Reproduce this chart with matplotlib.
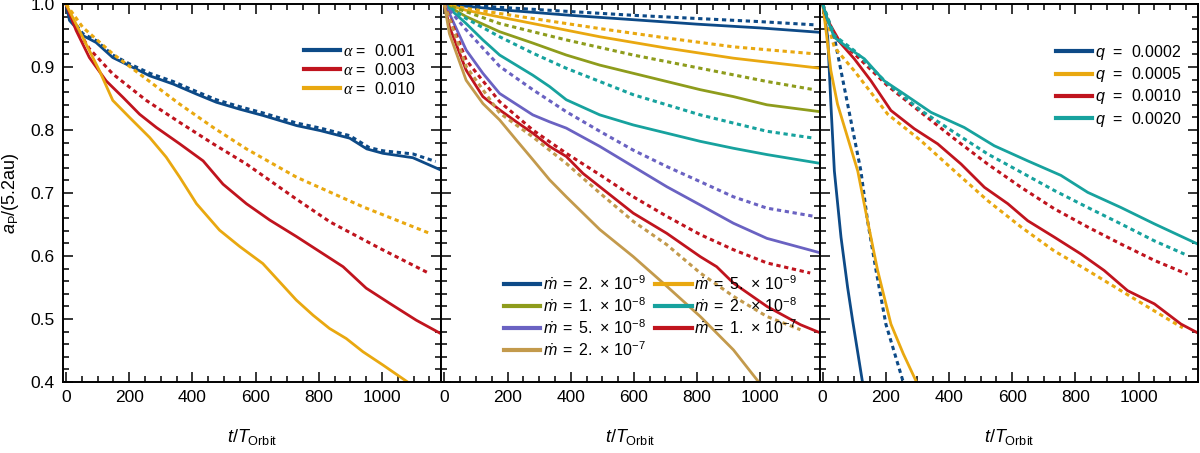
import matplotlib
matplotlib.use("Agg")
import matplotlib.pyplot as plt
from matplotlib.ticker import MultipleLocator, FormatStrFormatter

plt.rcParams['font.family'] = ['Liberation Sans', 'DejaVu Sans']
plt.rcParams['mathtext.fontset'] = 'custom'
plt.rcParams['mathtext.rm'] = 'Liberation Sans'
plt.rcParams['mathtext.it'] = 'Liberation Sans:italic'
plt.rcParams['mathtext.cal'] = 'Liberation Serif:italic'

BLUE = '#0d4a87'
RED = '#c0141e'
YELLOW = '#e9a810'
OLIVE = '#8e9c1c'
TEAL = '#17a29e'
PURPLE = '#6a62c2'
TAN = '#c39a4c'

# ---- panel 1: viscosity alpha ----
alpha_labels = [r'$\mathcal{\alpha}$ =  0.001', r'$\mathcal{\alpha}$ =  0.003', r'$\mathcal{\alpha}$ =  0.010']

t_a1 = [0, 11, 53, 95, 148, 201, 265, 339, 413, 476, 550, 624, 730, 805, 898, 952, 1003, 1098, 1193]
a_a1 = [1.0, 0.974, 0.950, 0.939, 0.915, 0.902, 0.886, 0.873, 0.857, 0.844, 0.833, 0.823, 0.807, 0.799,
        0.787, 0.770, 0.763, 0.756, 0.735]
t_a1d = [0, 20, 53, 95, 148, 201, 265, 339, 413, 476, 550, 624, 730, 805, 898, 960, 1003, 1098, 1170]
a_a1d = [1.0, 0.975, 0.953, 0.942, 0.919, 0.905, 0.890, 0.877, 0.861, 0.848, 0.837, 0.827, 0.811, 0.803,
         0.791, 0.772, 0.767, 0.762, 0.750]

t_a3 = [0, 32, 74, 127, 180, 233, 286, 360, 434, 497, 571, 645, 729, 803, 877, 950, 1024, 1109, 1193]
a_a3 = [1.0, 0.958, 0.915, 0.878, 0.852, 0.825, 0.804, 0.778, 0.751, 0.714, 0.683, 0.657, 0.631, 0.607,
        0.583, 0.549, 0.525, 0.498, 0.475]
t_a3d = [0, 30, 74, 148, 254, 360, 466, 571, 730, 836, 994, 1151]
a_a3d = [1.0, 0.965, 0.929, 0.889, 0.847, 0.812, 0.778, 0.746, 0.690, 0.654, 0.612, 0.572]

t_a10 = [0, 21, 63, 106, 148, 201, 265, 317, 360, 413, 486, 550, 623, 676, 729, 782, 834, 887, 940, 1003, 1087]
a_a10 = [1.0, 0.979, 0.937, 0.894, 0.847, 0.820, 0.788, 0.757, 0.725, 0.683, 0.641, 0.615, 0.588, 0.559,
         0.530, 0.506, 0.485, 0.469, 0.448, 0.427, 0.398]
t_a10d = [0, 53, 148, 254, 360, 466, 571, 730, 940, 1151]
a_a10d = [1.0, 0.963, 0.921, 0.881, 0.841, 0.804, 0.770, 0.725, 0.678, 0.636]

# ---- panel 2: accretion rate mdot ----
mdot_labels = [r'$\dot{m}\;=\;2.\,\times\,10^{-9}$', r'$\dot{m}\;=\;5.\,\times\,10^{-9}$',
               r'$\dot{m}\;=\;1.\,\times\,10^{-8}$', r'$\dot{m}\;=\;2.\,\times\,10^{-8}$',
               r'$\dot{m}\;=\;5.\,\times\,10^{-8}$', r'$\dot{m}\;=\;1.\,\times\,10^{-7}$',
               r'$\dot{m}\;=\;2.\,\times\,10^{-7}$']

t_m1 = [0, 200, 400, 600, 800, 1000, 1190]
a_m1 = [1.0, 0.990, 0.982, 0.975, 0.968, 0.962, 0.955]
t_m1d = [0, 200, 400, 600, 800, 1000, 1170]
a_m1d = [1.0, 0.994, 0.988, 0.982, 0.977, 0.972, 0.967]

t_m2 = [0, 69, 280, 492, 704, 915, 1190]
a_m2 = [1.0, 0.990, 0.969, 0.948, 0.930, 0.914, 0.898]
t_m2d = [0, 69, 280, 492, 704, 915, 1170]
a_m2d = [1.0, 0.993, 0.977, 0.961, 0.946, 0.932, 0.921]

t_m3 = [0, 69, 175, 280, 386, 492, 598, 704, 810, 915, 1021, 1190]
a_m3 = [1.0, 0.980, 0.956, 0.938, 0.919, 0.903, 0.890, 0.877, 0.864, 0.853, 0.840, 0.829]
t_m3d = [0, 175, 386, 598, 810, 1021, 1170]
a_m3d = [1.0, 0.969, 0.943, 0.919, 0.898, 0.877, 0.864]

t_m4 = [0, 69, 122, 175, 280, 333, 386, 492, 598, 704, 810, 915, 1021, 1190]
a_m4 = [1.0, 0.969, 0.943, 0.919, 0.887, 0.869, 0.848, 0.824, 0.808, 0.795, 0.782, 0.771, 0.761, 0.747]
t_m4d = [0, 69, 175, 280, 386, 492, 598, 704, 810, 915, 1021, 1170]
a_m4d = [1.0, 0.977, 0.948, 0.922, 0.898, 0.877, 0.856, 0.840, 0.824, 0.811, 0.798, 0.787]

t_m5 = [0, 16, 69, 122, 175, 280, 333, 386, 492, 598, 704, 810, 915, 1021, 1190]
a_m5 = [1.0, 0.985, 0.927, 0.890, 0.858, 0.824, 0.813, 0.803, 0.774, 0.742, 0.710, 0.681, 0.652, 0.628, 0.605]
t_m5d = [0, 69, 175, 280, 386, 492, 598, 704, 810, 915, 1021, 1170]
a_m5d = [1.0, 0.959, 0.901, 0.864, 0.829, 0.798, 0.768, 0.742, 0.718, 0.694, 0.676, 0.663]

t_m6 = [0, 16, 69, 122, 175, 228, 280, 333, 386, 439, 492, 598, 704, 810, 862, 915, 1021, 1127, 1190]
a_m6 = [1.0, 0.964, 0.895, 0.853, 0.832, 0.813, 0.795, 0.774, 0.758, 0.731, 0.710, 0.668, 0.636, 0.599,
        0.583, 0.557, 0.520, 0.491, 0.478]
t_m6d = [0, 69, 175, 280, 386, 492, 598, 704, 810, 915, 1021, 1158]
a_m6d = [1.0, 0.911, 0.845, 0.800, 0.763, 0.729, 0.694, 0.663, 0.634, 0.610, 0.589, 0.573]

t_m7 = [0, 16, 69, 122, 175, 228, 280, 333, 386, 439, 492, 598, 704, 810, 915, 995]
a_m7 = [1.0, 0.953, 0.879, 0.842, 0.816, 0.784, 0.753, 0.721, 0.694, 0.668, 0.642, 0.599, 0.552, 0.504,
        0.451, 0.400]
t_m7d = [0, 69, 175, 280, 386, 492, 598, 704, 810, 915, 1021, 1127]
a_m7d = [1.0, 0.901, 0.827, 0.789, 0.747, 0.700, 0.655, 0.618, 0.573, 0.536, 0.504, 0.483]

# ---- panel 3: mass ratio q ----
q_labels = [r'$q$  =  0.0002', r'$q$  =  0.0005', r'$q$  =  0.0010', r'$q$  =  0.0020']

t_q1 = [0, 8, 16, 26, 37, 58, 79, 95, 126]
a_q1 = [1.0, 0.975, 0.947, 0.841, 0.735, 0.630, 0.550, 0.497, 0.400]
t_q1d = [0, 16, 37, 58, 79, 100, 121, 142, 169, 200, 255]
a_q1d = [1.0, 0.975, 0.947, 0.894, 0.841, 0.788, 0.735, 0.656, 0.577, 0.492, 0.400]

t_q2 = [0, 10, 26, 47, 79, 111, 142, 174, 216, 255, 297]
a_q2 = [1.0, 0.960, 0.894, 0.841, 0.788, 0.735, 0.656, 0.577, 0.492, 0.445, 0.400]
t_q2d = [0, 37, 100, 206, 311, 417, 522, 628, 733, 839, 944, 1102, 1140]
a_q2d = [1.0, 0.931, 0.894, 0.825, 0.783, 0.735, 0.688, 0.646, 0.608, 0.577, 0.545, 0.497, 0.486]

t_q3 = [0, 16, 58, 100, 153, 216, 290, 364, 438, 512, 586, 649, 733, 818, 891, 965, 1050, 1134, 1187]
a_q3 = [1.0, 0.974, 0.937, 0.913, 0.878, 0.831, 0.802, 0.778, 0.746, 0.709, 0.683, 0.656, 0.630, 0.603,
        0.577, 0.545, 0.524, 0.492, 0.478]
t_q3d = [0, 37, 100, 206, 311, 417, 522, 628, 733, 839, 944, 1050, 1155]
a_q3d = [1.0, 0.947, 0.921, 0.870, 0.828, 0.786, 0.746, 0.709, 0.675, 0.646, 0.619, 0.593, 0.571]

t_q4 = [0, 16, 37, 79, 132, 195, 258, 343, 448, 543, 649, 754, 839, 944, 1050, 1187]
a_q4 = [1.0, 0.974, 0.947, 0.931, 0.913, 0.878, 0.857, 0.828, 0.804, 0.775, 0.751, 0.728, 0.701, 0.677,
        0.651, 0.619]
t_q4d = [0, 37, 100, 206, 311, 417, 522, 628, 733, 839, 944, 1050, 1145]
a_q4d = [1.0, 0.950, 0.926, 0.873, 0.831, 0.796, 0.762, 0.733, 0.704, 0.677, 0.651, 0.624, 0.603]

LW = 2.0
DOT = (0, (1.4, 1.2))


def pair(ax, t, a, td, ad, color, label):
    # dotted = model, solid = simulation
    ax.plot(td, ad, color=color, lw=LW + 0.2, linestyle=DOT)
    line, = ax.plot(t, a, color=color, lw=LW, label=label)
    return line


fig = plt.figure(figsize=(12, 4.53), dpi=100)
left, right, bottom, top = 63 / 1200, 1198 / 1200, 71 / 453, 449 / 453
w = (right - left) / 3
axes = [fig.add_axes([left + i * w, bottom, w, top - bottom]) for i in range(3)]

for i, ax in enumerate(axes):
    ax.set_xlim(-9.5, 1188)
    ax.set_ylim(0.4, 1.0)
    ax.xaxis.set_major_locator(MultipleLocator(200))
    ax.xaxis.set_minor_locator(MultipleLocator(50))
    ax.yaxis.set_major_locator(MultipleLocator(0.1))
    ax.yaxis.set_minor_locator(MultipleLocator(0.02))
    ax.tick_params(which='both', direction='in', top=True, right=True, labelsize=12.5, width=1.1)
    ax.tick_params(which='major', length=7, pad=6)
    ax.tick_params(which='minor', length=4)
    for sp in ax.spines.values():
        sp.set_linewidth(1.4)
    ax.set_xlabel(r'$t/T_{\mathrm{Orbit}}$', fontsize=13)
    ax.xaxis.set_label_coords(0.5, -0.118)
    if i > 0:
        ax.tick_params(labelleft=False)

ax1, ax2, ax3 = axes
ax1.yaxis.set_major_formatter(FormatStrFormatter('%.1f'))
ax1.set_ylabel(r'$a_{\mathrm{P}}$/(5.2au)', fontsize=13)
ax1.yaxis.set_label_coords(-0.11, 0.5)

h1 = [pair(ax1, t_a1, a_a1, t_a1d, a_a1d, BLUE, alpha_labels[0]),
      pair(ax1, t_a3, a_a3, t_a3d, a_a3d, RED, alpha_labels[1]),
      pair(ax1, t_a10, a_a10, t_a10d, a_a10d, YELLOW, alpha_labels[2])]

h2 = [pair(ax2, t_m1, a_m1, t_m1d, a_m1d, BLUE, mdot_labels[0]),
      pair(ax2, t_m2, a_m2, t_m2d, a_m2d, YELLOW, mdot_labels[1]),
      pair(ax2, t_m3, a_m3, t_m3d, a_m3d, OLIVE, mdot_labels[2]),
      pair(ax2, t_m4, a_m4, t_m4d, a_m4d, TEAL, mdot_labels[3]),
      pair(ax2, t_m5, a_m5, t_m5d, a_m5d, PURPLE, mdot_labels[4]),
      pair(ax2, t_m6, a_m6, t_m6d, a_m6d, RED, mdot_labels[5]),
      pair(ax2, t_m7, a_m7, t_m7d, a_m7d, TAN, mdot_labels[6])]

h3 = [pair(ax3, t_q1, a_q1, t_q1d, a_q1d, BLUE, q_labels[0]),
      pair(ax3, t_q2, a_q2, t_q2d, a_q2d, YELLOW, q_labels[1]),
      pair(ax3, t_q3, a_q3, t_q3d, a_q3d, RED, q_labels[2]),
      pair(ax3, t_q4, a_q4, t_q4d, a_q4d, TEAL, q_labels[3])]

leg_kw = dict(frameon=False, fontsize=11.5, handlelength=2.3, handletextpad=0.15,
              labelspacing=0.2, borderaxespad=0, borderpad=0)
ax1.legend(handles=h1, loc='upper right', bbox_to_anchor=(0.931, 0.898), **leg_kw)
order = [0, 2, 4, 6, 1, 3, 5]
ax2.legend(handles=[h2[k] for k in order], loc='lower left', bbox_to_anchor=(0.165, 0.062),
           ncol=2, columnspacing=0.6, **leg_kw)
ax3.legend(handles=h3, loc='upper right', bbox_to_anchor=(0.955, 0.897), **leg_kw)

for leg in [ax1.get_legend(), ax2.get_legend(), ax3.get_legend()]:
    for ln in leg.get_lines():
        ln.set_linewidth(3.0)

fig.savefig('out.png', dpi=100)
